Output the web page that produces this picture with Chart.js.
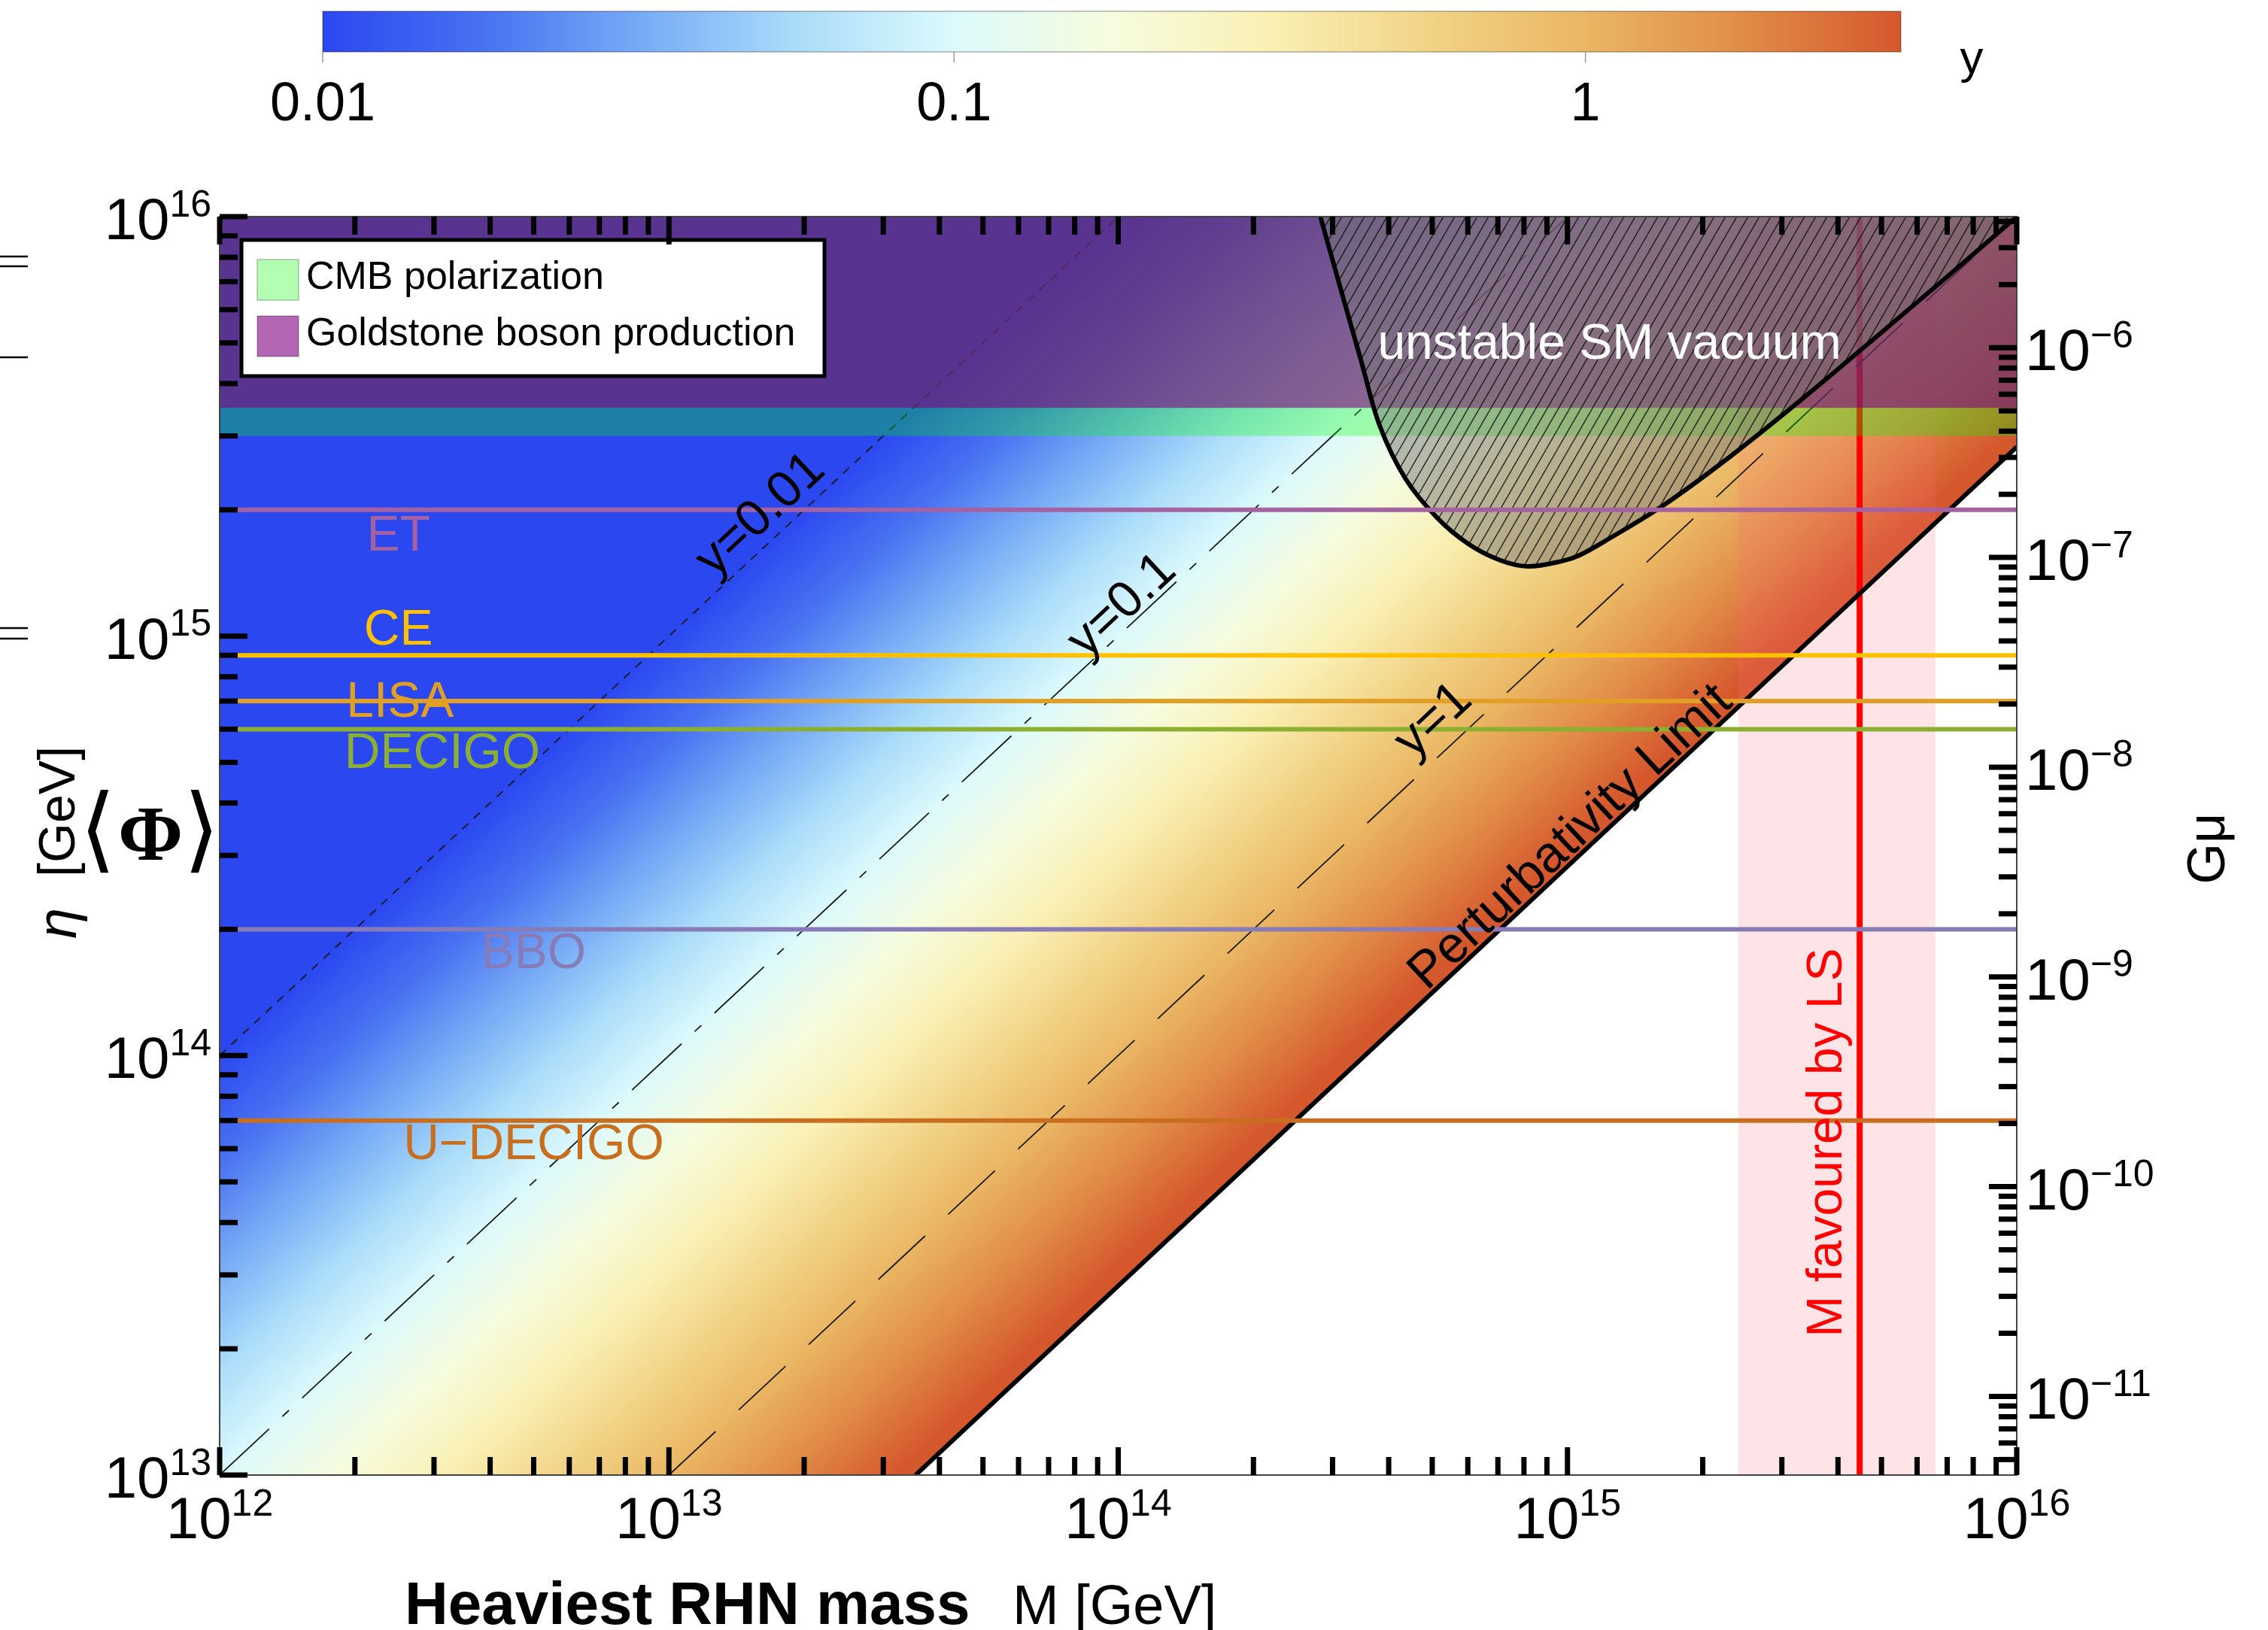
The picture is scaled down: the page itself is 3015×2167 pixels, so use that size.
<!DOCTYPE html>
<html><head><meta charset="utf-8">
<script src="https://cdn.jsdelivr.net/npm/chart.js@4.4.1/dist/chart.umd.min.js"></script>
<style>
html,body{margin:0;padding:0;background:#fff;}
#wrap{position:relative;width:3015px;height:2167px;background:#fff;}
canvas{position:absolute;left:0;top:0;}
</style></head><body>
<div id="wrap">
<canvas id="main" width="3015" height="2167"></canvas>
<canvas id="cbar" width="3015" height="240"></canvas>
</div>
<script>
// ---------------- DATA ----------------
const xRange = [1e12, 1e16];            // heaviest RHN mass M [GeV]
const yRange = [1e13, 1e16];            // eta = <Phi> [GeV]
const gmuRange = [4.217e-12, 4.217e-6]; // G mu (right axis)
const xTickExponents = [12, 13, 14, 15, 16];
const yTickExponents = [13, 14, 15, 16];
const gmuTickExponents = [-11, -10, -9, -8, -7, -6];
const cbRange = [0.01, 3.16];
const cbTickValues = [0.01, 0.1, 1];
const cbTickLabels = ['0.01', '0.1', '1'];
const detectorNames = ['ET', 'CE', 'LISA', 'DECIGO', 'BBO', 'U\u2212DECIGO'];
const detectorEta = [2.0e15, 9.0e14, 7.0e14, 6.0e14, 2.0e14, 7.0e13];
const couplingLines = [0.01, 0.1, 1];
const couplingLabels = ['y=0.01', 'y=0.1', 'y=1'];
const perturbativityY = 3.54;
const cmbEtaMin = 3.0e15;
const goldstoneEtaMin = 3.5e15;
const legendLabels = ['CMB polarization', 'Goldstone boson production'];
const vacuumM   = [2.818e14, 3.148e14, 3.467e14, 3.819e14, 4.355e14, 5.117e14, 6.012e14, 7.079e14, 8.166e14, 9.74e14, 1.065e15, 1.223e15, 1.633e15, 2.302e15, 3.385e15, 4.977e15, 7.318e15, 1.0e16];
const vacuumEta = [1.0e16, 6.56e15, 4.56e15, 3.177e15, 2.377e15, 1.919e15, 1.660e15, 1.517e15, 1.466e15, 1.510e15, 1.560e15, 1.694e15, 2.048e15, 2.679e15, 3.729e15, 5.274e15, 7.490e15, 1.0e16];
const lsBestM = 4.47e15;
const lsRangeM = [2.40e15, 6.59e15];

// ---------------- STYLES ----------------
const FONT = '"Liberation Sans", Arial, Helvetica, sans-serif';
const detectorColors = ['#A462A2', '#FFC000', '#E1A023', '#8CAF32', '#877CB8', '#C86E1E'];
const detectorLabelPos = [ // [M, pixel offset from line]
  [2.5e12, 33], [2.5e12, -35], [2.52e12, 0], [3.13e12, 30], [5.0e12, 30], [5.0e12, 30]
];
const couplingDash = [[11, 10], [90, 24, 12, 24], [85, 42]];
const couplingLabelPos = [[1.59e13, 1.96e15], [1.014e14, 1.19e15], [5.0e14, 6.34e14]];
const cmbColor = 'rgba(0,255,0,0.3)';
const goldColor = 'rgba(128,0,128,0.6)';
const cmapStops = [
  [0.00, 43, 72, 240], [0.10, 72, 112, 242], [0.20, 118, 170, 245], [0.30, 170, 220, 250],
  [0.40, 220, 250, 252], [0.50, 246, 252, 222], [0.60, 250, 240, 180], [0.70, 242, 212, 135],
  [0.80, 234, 182, 100], [0.90, 225, 140, 72], [1.00, 213, 88, 45]
];
function cmap(t) {
  if (t <= 0) return cmapStops[0].slice(1);
  if (t >= 1) return cmapStops[cmapStops.length - 1].slice(1);
  for (let i = 1; i < cmapStops.length; i++) {
    if (t <= cmapStops[i][0]) {
      const a = cmapStops[i - 1], b = cmapStops[i];
      const f = (t - a[0]) / (b[0] - a[0]);
      return [a[1] + f * (b[1] - a[1]), a[2] + f * (b[2] - a[2]), a[3] + f * (b[3] - a[3])];
    }
  }
}

const W = 3015, H = 2167;
const PA = {left: 292, top: 288, right: 2681, bottom: 1961};

function makeHatch() {
  const c = document.createElement('canvas');
  const w = 15, h = 26;
  c.width = w; c.height = h;
  const g = c.getContext('2d');
  g.fillStyle = 'rgba(118,118,118,0.5)';
  g.fillRect(0, 0, w, h);
  g.strokeStyle = 'rgba(15,15,15,0.85)';
  g.lineWidth = 1.4;
  for (const dx of [-w, 0, w]) {
    g.beginPath(); g.moveTo(dx, h); g.lineTo(dx + w, 0); g.stroke();
  }
  return document.getElementById('main').getContext('2d').createPattern(c, 'repeat');
}

// ---------------- DATASETS ----------------
const ds = [];
ds.push({data: [{x: lsRangeM[0], y: yRange[0]}, {x: lsRangeM[0], y: yRange[1]}, {x: lsRangeM[1], y: yRange[1]}, {x: lsRangeM[1], y: yRange[0]}],
  fill: 'shape', backgroundColor: 'rgba(255,105,120,0.18)', borderWidth: 0, borderColor: 'rgba(0,0,0,0)', order: 100});
ds.push({data: [{x: lsBestM, y: yRange[0]}, {x: lsBestM, y: yRange[1]}], borderColor: '#ff0000', borderWidth: 8, fill: false, order: 95});
couplingLines.forEach((c, i) => {
  const e0 = Math.max(yRange[0], xRange[0] / c), e1 = Math.min(yRange[1], xRange[1] / c);
  ds.push({data: [{x: c * e0, y: e0}, {x: c * e1, y: e1}], borderColor: '#1a1a1a', borderWidth: 1.8, borderDash: couplingDash[i], fill: false, order: 90});
});
{
  const e0 = Math.max(yRange[0], xRange[0] / perturbativityY), e1 = Math.min(yRange[1], xRange[1] / perturbativityY);
  ds.push({data: [{x: perturbativityY * e0, y: e0}, {x: perturbativityY * e1, y: e1}], borderColor: '#000', borderWidth: 6, fill: false, order: 85});
}
ds.push({data: [{x: xRange[0], y: cmbEtaMin}, {x: xRange[1], y: cmbEtaMin}], fill: 'end', backgroundColor: cmbColor, borderWidth: 0, borderColor: 'rgba(0,0,0,0)', order: 80});
ds.push({data: [{x: xRange[0], y: goldstoneEtaMin}, {x: xRange[1], y: goldstoneEtaMin}], fill: 'end', backgroundColor: goldColor, borderWidth: 0, borderColor: 'rgba(0,0,0,0)', order: 75});
ds.push({data: vacuumM.map((m, i) => ({x: m, y: vacuumEta[i]})), fill: 'shape', backgroundColor: makeHatch(), borderColor: '#000', borderWidth: 6, tension: 0.35, order: 70});
detectorEta.forEach((e, i) => {
  ds.push({data: [{x: xRange[0], y: e}, {x: xRange[1], y: e}], borderColor: detectorColors[i], borderWidth: 6, fill: false, order: 60});
});
ds.forEach(d => { d.pointRadius = 0; d.pointHoverRadius = 0; });

// ---------------- PLUGINS ----------------
const heatPlugin = {
  id: 'heat',
  beforeDatasetsDraw(chart) {
    const ctx = chart.ctx, a = chart.chartArea, sx = chart.scales.x, sy = chart.scales.y;
    const w = Math.round(a.right - a.left), h = Math.round(a.bottom - a.top);
    const img = ctx.createImageData(w, h);
    const lx = new Float64Array(w), ly = new Float64Array(h);
    for (let i = 0; i < w; i++) lx[i] = Math.log10(sx.getValueForPixel(a.left + i + 0.5));
    for (let j = 0; j < h; j++) ly[j] = Math.log10(sy.getValueForPixel(a.top + j + 0.5));
    const l0 = Math.log10(cbRange[0]), l1 = Math.log10(cbRange[1]), lp = Math.log10(perturbativityY);
    const d = img.data;
    for (let j = 0; j < h; j++) {
      for (let i = 0; i < w; i++) {
        const k = (j * w + i) * 4;
        const ly_ = lx[i] - ly[j];
        if (ly_ > lp) { d[k] = 255; d[k + 1] = 255; d[k + 2] = 255; d[k + 3] = 255; continue; }
        const c = cmap((ly_ - l0) / (l1 - l0));
        d[k] = c[0]; d[k + 1] = c[1]; d[k + 2] = c[2]; d[k + 3] = 255;
      }
    }
    ctx.putImageData(img, Math.round(a.left), Math.round(a.top));
  }
};

function powLabel(ctx, exp, x, y, align, baseSize, supSize) {
  ctx.textBaseline = 'alphabetic'; ctx.textAlign = 'left';
  ctx.font = baseSize + 'px ' + FONT;
  const wb = ctx.measureText('10').width;
  ctx.font = supSize + 'px ' + FONT;
  const we = ctx.measureText(exp).width;
  const tot = wb + we;
  const x0 = align === 'center' ? x - tot / 2 : align === 'right' ? x - tot : x;
  const base = y + 0.716 * baseSize / 2;
  ctx.font = baseSize + 'px ' + FONT;
  ctx.fillText('10', x0, base);
  ctx.font = supSize + 'px ' + FONT;
  ctx.fillText(exp, x0 + wb, base - 0.39 * baseSize);
}
function expStr(e) { return e < 0 ? '\u2212' + (-e) : String(e); }

const decorPlugin = {
  id: 'decor',
  afterDatasetsDraw(chart) {
    const ctx = chart.ctx, sx = chart.scales.x, sy = chart.scales.y;
    ctx.save();
    ctx.font = '66px ' + FONT; ctx.textAlign = 'center'; ctx.textBaseline = 'middle';
    detectorNames.forEach((n, i) => {
      ctx.fillStyle = detectorColors[i];
      ctx.fillText(n, sx.getPixelForValue(detectorLabelPos[i][0]), sy.getPixelForValue(detectorEta[i]) + detectorLabelPos[i][1] + 3);
    });
    const ang = Math.atan2(sy.getPixelForValue(1e15) - sy.getPixelForValue(1e14), sx.getPixelForValue(1e14) - sx.getPixelForValue(1e13));
    ctx.fillStyle = '#000';
    ctx.font = '68px ' + FONT;
    couplingLabels.forEach((t, i) => {
      ctx.save();
      ctx.translate(sx.getPixelForValue(couplingLabelPos[i][0]), sy.getPixelForValue(couplingLabelPos[i][1]));
      ctx.rotate(ang); ctx.fillText(t, 0, 3); ctx.restore();
    });
    ctx.save();
    ctx.translate(sx.getPixelForValue(1.01e15), sy.getPixelForValue(3.34e14));
    ctx.rotate(ang); ctx.fillText('Perturbativity Limit', 0, 3); ctx.restore();
    ctx.fillStyle = '#fff'; ctx.font = '66px ' + FONT;
    ctx.fillText('unstable SM vacuum', sx.getPixelForValue(1.24e15), sy.getPixelForValue(5.0e15) + 3);
    ctx.save();
    ctx.translate(sx.getPixelForValue(3.76e15), sy.getPixelForValue(6.2e13));
    ctx.rotate(-Math.PI / 2); ctx.fillStyle = '#ff0000'; ctx.font = '66px ' + FONT;
    ctx.fillText('M favoured by LS', 0, 3); ctx.restore();
    ctx.restore();
  },
  afterDraw(chart) {
    const ctx = chart.ctx, a = chart.chartArea, sx = chart.scales.x, sy = chart.scales.y, sg = chart.scales.g;
    ctx.save();
    // legend
    const lb = {l: 321, t: 319, r: 1096, b: 500};
    ctx.fillStyle = '#fff'; ctx.fillRect(lb.l, lb.t, lb.r - lb.l, lb.b - lb.t);
    ctx.strokeStyle = '#000'; ctx.lineWidth = 5; ctx.strokeRect(lb.l, lb.t, lb.r - lb.l, lb.b - lb.t);
    [cmbColor, goldColor].forEach((c, i) => {
      const yy = 345 + i * 75;
      ctx.fillStyle = '#fff'; ctx.fillRect(342, yy, 55, 54);
      ctx.fillStyle = c; ctx.fillRect(342, yy, 55, 54);
      ctx.strokeStyle = 'rgba(0,0,0,0.25)'; ctx.lineWidth = 1.5; ctx.strokeRect(342, yy, 55, 54);
      ctx.fillStyle = '#000'; ctx.font = '52px ' + FONT; ctx.textAlign = 'left'; ctx.textBaseline = 'middle';
      ctx.fillText(legendLabels[i], 407, yy + 25);
    });
    // frame
    ctx.strokeStyle = '#444'; ctx.lineWidth = 2;
    ctx.strokeRect(a.left, a.top, a.right - a.left, a.bottom - a.top);
    // ticks
    ctx.strokeStyle = '#000'; ctx.lineWidth = 7; ctx.lineCap = 'butt';
    const MAJ = 37, MIN = 24;
    const line = (x1, y1, x2, y2) => { ctx.beginPath(); ctx.moveTo(x1, y1); ctx.lineTo(x2, y2); ctx.stroke(); };
    for (let e = 12; e <= 16; e++) for (let k = 1; k <= 9; k++) {
      const v = k * Math.pow(10, e); if (v > xRange[1] * 1.001) break;
      const p = sx.getPixelForValue(v), L = k === 1 ? MAJ : MIN;
      line(p, a.bottom, p, a.bottom - L); line(p, a.top, p, a.top + L);
    }
    for (let e = 13; e <= 16; e++) for (let k = 1; k <= 9; k++) {
      const v = k * Math.pow(10, e); if (v > yRange[1] * 1.001) break;
      const p = sy.getPixelForValue(v), L = k === 1 ? MAJ : MIN;
      line(a.left, p, a.left + L, p);
    }
    for (let e = -12; e <= -6; e++) for (let k = 1; k <= 9; k++) {
      const v = k * Math.pow(10, e); if (v < gmuRange[0] || v > gmuRange[1]) continue;
      const p = sg.getPixelForValue(v), L = k === 1 ? MAJ : MIN;
      line(a.right, p, a.right - L, p);
    }
    // tick labels
    ctx.fillStyle = '#000';
    xTickExponents.forEach(e => powLabel(ctx, String(e), sx.getPixelForValue(Math.pow(10, e)), a.bottom + 56, 'center', 78, 50));
    yTickExponents.forEach(e => powLabel(ctx, String(e), a.left - 11, sy.getPixelForValue(Math.pow(10, e)) + 2, 'right', 78, 50));
    gmuTickExponents.forEach(e => powLabel(ctx, expStr(e), a.right + 11, sg.getPixelForValue(Math.pow(10, e)) + 2, 'left', 78, 50));
    // axis titles
    ctx.textAlign = 'left'; ctx.textBaseline = 'alphabetic';
    ctx.font = 'bold 80px ' + FONT; ctx.fillText('Heaviest RHN mass', 538, 2159);
    ctx.font = '74px ' + FONT; ctx.fillText('M [GeV]', 1346, 2159);
    // left title: eta [GeV] rotated
    ctx.save(); ctx.translate(80, 1120); ctx.rotate(-Math.PI / 2);
    ctx.textBaseline = 'middle';
    ctx.font = 'italic 74px ' + FONT; const we = ctx.measureText('\u03b7  ').width;
    ctx.font = '68px ' + FONT; const wg = ctx.measureText('[GeV]').width;
    const sx0 = -(we + wg) / 2;
    ctx.font = 'italic 74px ' + FONT; ctx.textAlign = 'left'; ctx.fillText('\u03b7', sx0, 0);
    ctx.font = '68px ' + FONT; ctx.fillText('[GeV]', sx0 + we, 0);
    ctx.restore();
    // <Phi>
    ctx.textAlign = 'center'; ctx.textBaseline = 'middle';
    ctx.font = '124px "DejaVu Sans", ' + FONT;
    ctx.fillText('\u27e8', 130, 1112); ctx.fillText('\u27e9', 268, 1112);
    ctx.font = 'bold 104px "Liberation Serif", "DejaVu Serif", serif';
    ctx.fillText('\u03a6', 200, 1116);
    // right title G mu
    ctx.save(); ctx.translate(2938, 1128); ctx.rotate(-Math.PI / 2);
    ctx.font = '70px ' + FONT; ctx.textAlign = 'center'; ctx.textBaseline = 'middle';
    ctx.fillText('G\u03bc', 0, 0); ctx.restore();
    // cropped artifacts at far left
    ctx.strokeStyle = '#000'; ctx.lineWidth = 2.5;
    [341, 354, 475, 835, 849].forEach(yy => line(0, yy, 37, yy));
    ctx.restore();
  }
};

Chart.defaults.font.family = FONT;
new Chart(document.getElementById('main'), {
  type: 'line',
  data: {datasets: ds},
  options: {
    responsive: false, animation: false, devicePixelRatio: 1,
    layout: {padding: {left: PA.left, top: PA.top, right: W - PA.right, bottom: H - PA.bottom}},
    plugins: {legend: {display: false}, tooltip: {enabled: false}},
    events: [],
    scales: {
      x: {type: 'logarithmic', min: xRange[0], max: xRange[1], display: false},
      y: {type: 'logarithmic', min: yRange[0], max: yRange[1], display: false},
      g: {type: 'logarithmic', axis: 'y', position: 'right', min: gmuRange[0], max: gmuRange[1], display: false}
    }
  },
  plugins: [heatPlugin, decorPlugin]
});

// ---------------- COLORBAR ----------------
const CB = {left: 429, top: 15, right: 2527, bottom: 69};
const cbPlugin = {
  id: 'cb',
  afterDraw(chart) {
    const ctx = chart.ctx, a = chart.chartArea, sx = chart.scales.x;
    const l0 = Math.log10(cbRange[0]), l1 = Math.log10(cbRange[1]);
    for (let px = Math.round(a.left); px < Math.round(a.right); px++) {
      const v = Math.log10(sx.getValueForPixel(px + 0.5));
      const c = cmap((v - l0) / (l1 - l0));
      ctx.fillStyle = 'rgb(' + c.map(Math.round).join(',') + ')';
      ctx.fillRect(px, a.top, 1, a.bottom - a.top);
    }
    ctx.strokeStyle = 'rgba(0,0,0,0.3)'; ctx.lineWidth = 1.5;
    ctx.strokeRect(a.left, a.top, a.right - a.left, a.bottom - a.top);
    ctx.strokeStyle = '#999'; ctx.lineWidth = 1.5;
    ctx.fillStyle = '#000'; ctx.font = '72px ' + FONT; ctx.textAlign = 'center'; ctx.textBaseline = 'middle';
    cbTickValues.forEach((v, i) => {
      const p = sx.getPixelForValue(v);
      ctx.beginPath(); ctx.moveTo(p, a.bottom); ctx.lineTo(p, a.bottom + 14); ctx.stroke();
      ctx.fillText(cbTickLabels[i], p, 140);
    });
    ctx.font = '62px ' + FONT; ctx.fillText('y', 2621, 80);
  }
};
new Chart(document.getElementById('cbar'), {
  type: 'line',
  data: {datasets: []},
  options: {
    responsive: false, animation: false, devicePixelRatio: 1, events: [],
    layout: {padding: {left: CB.left, top: CB.top, right: W - CB.right, bottom: 240 - CB.bottom}},
    plugins: {legend: {display: false}, tooltip: {enabled: false}},
    scales: {
      x: {type: 'logarithmic', min: cbRange[0], max: cbRange[1], display: false},
      y: {type: 'linear', min: 0, max: 1, display: false}
    }
  },
  plugins: [cbPlugin]
});
</script>
</body></html>
